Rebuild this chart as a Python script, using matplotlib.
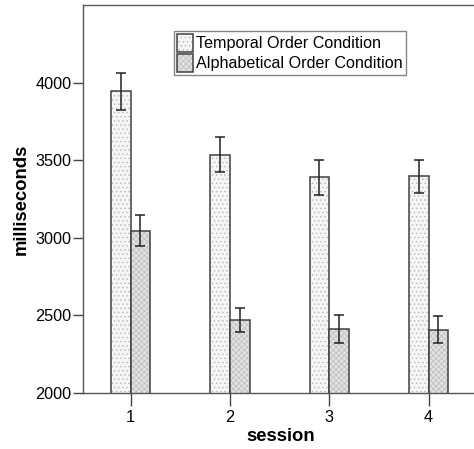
import matplotlib
matplotlib.use("Agg")
import matplotlib.pyplot as plt
import numpy as np

sessions = ["1", "2", "3", "4"]
temporal = [3944, 3535, 3389, 3396]
temporal_err = [120, 112, 115, 105]
alphabetical = [3047, 2469, 2411, 2406]
alphabetical_err = [103, 76, 90, 87]
series_labels = ["Temporal Order Condition", "Alphabetical Order Condition"]

plt.rcParams['font.family'] = ['Liberation Sans', 'DejaVu Sans']
plt.rcParams['hatch.linewidth'] = 0.5

W, H = 474, 449
fig = plt.figure(figsize=(W / 100, H / 100), dpi=100)
left = 83 / W
bottom = (H - 393) / H
top = (H - 5) / H
xmin, xmax = 0.52, 4.5
px_per_unit = 99.3
ax = fig.add_axes([left, bottom, (xmax - xmin) * px_per_unit / W, top - bottom])

x = np.arange(1, len(sessions) + 1)
w = 0.197
edge = '#404040'
b1 = ax.bar(x - w / 2, temporal, width=w, facecolor='#f5f5f5',
            edgecolor=edge, linewidth=1.1, hatch='....', zorder=2)
b2 = ax.bar(x + w / 2, alphabetical, width=w, facecolor='#e2e2e2',
            edgecolor=edge, linewidth=1.1, hatch='xxxxxx', zorder=2)
for bars, hc in ((b1, '#b8b8b8'), (b2, '#bcbcbc')):
    for p in bars:
        p.set_edgecolor(edge)
        p._hatch_color = matplotlib.colors.to_rgba(hc)

ax.errorbar(x - w / 2, temporal, yerr=temporal_err, fmt='none', ecolor='#222222',
            elinewidth=1.1, capsize=3.6, capthick=1.1, zorder=3)
ax.errorbar(x + w / 2, alphabetical, yerr=alphabetical_err, fmt='none', ecolor='#222222',
            elinewidth=1.1, capsize=3.6, capthick=1.1, zorder=3)

ax.set_xlim(xmin, xmax)
ax.set_ylim(2000, 4500)
ax.set_yticks([2000, 2500, 3000, 3500, 4000])
ax.set_xticks(x)
ax.set_xticklabels(sessions)
ax.tick_params(axis='y', direction='out', length=7.2, width=1, color='#444444',
               labelsize=11.7, pad=1)
ax.tick_params(axis='x', direction='out', length=9.5, width=1, color='#444444',
               labelsize=11.7, pad=3)
for s in ['left', 'top', 'bottom', 'right']:
    ax.spines[s].set_color('#555555')
    ax.spines[s].set_linewidth(1)

ax.set_xlabel('session', fontsize=13.3, fontweight='bold', labelpad=2)
ax.set_ylabel('milliseconds', fontsize=13.3, fontweight='bold', labelpad=4)

leg = ax.legend([b1, b2], series_labels, loc='upper left',
                bbox_to_anchor=(174 / W, 1 - 31 / H), bbox_transform=fig.transFigure,
                fontsize=11.6, frameon=True, fancybox=False, edgecolor='#666666',
                handlelength=1.0, handleheight=1.3, handletextpad=0.15,
                borderpad=0.2, borderaxespad=0, labelspacing=0.15)
leg.get_frame().set_linewidth(1)

fig.savefig('out.png', dpi=100)
